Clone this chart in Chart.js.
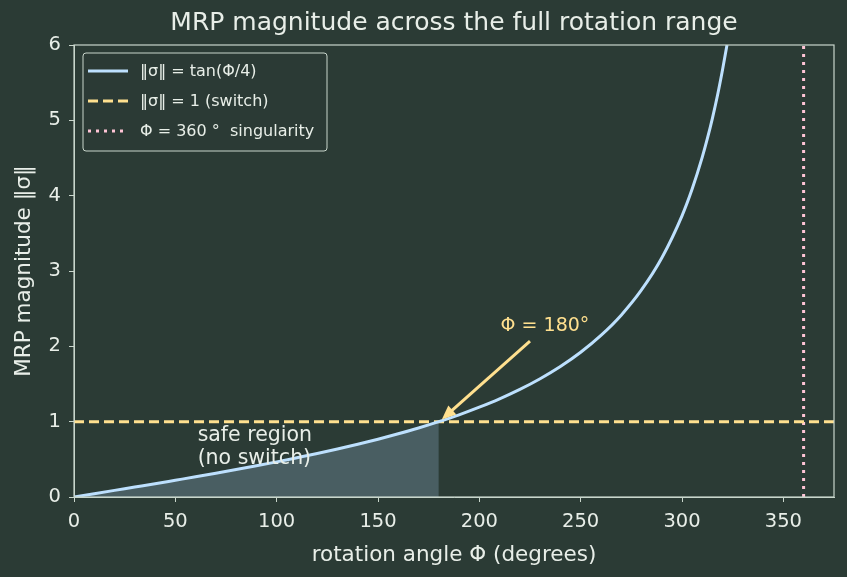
<!DOCTYPE html>
<html>
<head>
<meta charset="utf-8">
<script src="https://cdn.jsdelivr.net/npm/chart.js@4.4.1/dist/chart.umd.min.js"></script>
<style>
  html, body { margin: 0; padding: 0; background: #2b3b35; }
  canvas { display: block; }
</style>
</head>
<body>
<canvas id="mrpChart" width="847" height="577"></canvas>
<script>
// rotation angle (deg) and MRP magnitude
const angles = [0, 10, 20, 30, 40, 50, 60, 70, 80, 90, 100, 110, 120, 130, 140, 150, 160, 170, 180,
  190, 200, 210, 220, 230, 240, 250, 260, 270, 280, 290, 300, 305, 310, 312.5, 315, 317.5, 320, 322.2];
const magnitudes = [0, 0.044, 0.088, 0.132, 0.176, 0.222, 0.268, 0.315, 0.364, 0.414, 0.466, 0.521, 0.577,
  0.637, 0.700, 0.767, 0.839, 0.916, 1.0, 1.091, 1.192, 1.303, 1.428, 1.570, 1.732, 1.921, 2.145, 2.414,
  2.748, 3.172, 3.732, 4.087, 4.511, 4.756, 5.027, 5.329, 5.671, 6.0];
const safeEnd = 180;
const switchLevel = 1;
const singularAngle = 360;
const xTicks = [0, 50, 100, 150, 200, 250, 300, 350];
const yTicks = [0, 1, 2, 3, 4, 5, 6];

const textColor = '#e8eee8';
const frameColor = '#c9d6cc';
const curveColor = '#bde0fe';
const switchColor = '#ffe08f';
const singColor = '#ffc4d6';
const fontFamily = '"DejaVu Sans"';

const curvePts = angles.map((a, i) => ({ x: a, y: magnitudes[i] }));
const safePts = curvePts.filter(p => p.x <= safeEnd);

// frame, legend and annotations
const extrasPlugin = {
  id: 'extras',
  afterDraw(chart) {
    const { ctx, chartArea: ca, scales: { x, y } } = chart;
    ctx.save();
    ctx.strokeStyle = frameColor;
    ctx.lineWidth = 1.2;
    ctx.strokeRect(ca.left, ca.top, ca.right - ca.left, ca.bottom - ca.top);

    // arrow annotation
    const tx = x.getPixelForValue(225), ty = y.getPixelForValue(2.07);
    const hx = x.getPixelForValue(181.5), hy = y.getPixelForValue(1.03);
    const ang = Math.atan2(hy - ty, hx - tx);
    ctx.strokeStyle = switchColor;
    ctx.fillStyle = switchColor;
    ctx.lineWidth = 3;
    ctx.beginPath();
    ctx.moveTo(tx, ty);
    ctx.lineTo(hx - 8 * Math.cos(ang), hy - 8 * Math.sin(ang));
    ctx.stroke();
    ctx.beginPath();
    ctx.moveTo(hx, hy);
    ctx.lineTo(hx - 14 * Math.cos(ang) + 6 * Math.sin(ang), hy - 14 * Math.sin(ang) - 6 * Math.cos(ang));
    ctx.lineTo(hx - 14 * Math.cos(ang) - 6 * Math.sin(ang), hy - 14 * Math.sin(ang) + 6 * Math.cos(ang));
    ctx.closePath();
    ctx.fill();
    ctx.font = '19px ' + fontFamily;
    ctx.textBaseline = 'middle';
    ctx.fillText('Φ = 180°', x.getPixelForValue(210.5), y.getPixelForValue(2.27));

    ctx.fillStyle = textColor;
    ctx.font = '20.5px ' + fontFamily;
    ctx.fillText('safe region', x.getPixelForValue(61), y.getPixelForValue(0.82));
    ctx.fillText('(no switch)', x.getPixelForValue(61), y.getPixelForValue(0.51));

    // legend box
    const lx = 83, ly = 53, lw = 244, lh = 98;
    ctx.fillStyle = 'rgba(43,59,53,0.85)';
    ctx.strokeStyle = frameColor;
    ctx.lineWidth = 1;
    ctx.beginPath();
    ctx.roundRect(lx, ly, lw, lh, 3);
    ctx.fill();
    ctx.stroke();
    const items = [
      { label: '‖σ‖ = tan(Φ/4)', color: curveColor, dash: [] },
      { label: '‖σ‖ = 1 (switch)', color: switchColor, dash: [10, 5] },
      { label: 'Φ = 360 °  singularity', color: singColor, dash: [3, 5] }
    ];
    ctx.font = '16px ' + fontFamily;
    items.forEach((it, i) => {
      const rowY = 71 + i * 30;
      ctx.strokeStyle = it.color;
      ctx.lineWidth = 3;
      ctx.setLineDash(it.dash);
      ctx.beginPath();
      ctx.moveTo(88, rowY);
      ctx.lineTo(128, rowY);
      ctx.stroke();
      ctx.setLineDash([]);
      ctx.fillStyle = textColor;
      ctx.fillText(it.label, 140, rowY + 1);
    });
    ctx.restore();
  }
};

const ctxMrp = document.getElementById('mrpChart').getContext('2d');
const mrpChart = new Chart(ctxMrp, {
  type: 'line',
  data: {
    datasets: [
      {
        label: 'safe region',
        data: safePts,
        borderWidth: 0,
        pointRadius: 0,
        fill: 'origin',
        backgroundColor: 'rgba(150,185,215,0.28)',
        tension: 0.2,
        order: 4
      },
      {
        label: '‖σ‖ = 1 (switch)',
        data: [{ x: 0, y: switchLevel }, { x: 375, y: switchLevel }],
        borderColor: switchColor,
        borderWidth: 3,
        borderDash: [10, 5],
        pointRadius: 0,
        fill: false,
        order: 2
      },
      {
        label: 'Φ = 360 ° singularity',
        data: [{ x: singularAngle, y: 0 }, { x: singularAngle, y: 6 }],
        borderColor: singColor,
        borderWidth: 3,
        borderDash: [3, 5],
        pointRadius: 0,
        fill: false,
        order: 3
      },
      {
        label: '‖σ‖ = tan(Φ/4)',
        data: curvePts,
        borderColor: curveColor,
        borderWidth: 3,
        pointRadius: 0,
        fill: false,
        cubicInterpolationMode: 'monotone',
        order: 1
      }
    ]
  },
  options: {
    responsive: false,
    animation: false,
    layout: { padding: { left: 0, right: 13, top: 0, bottom: 0 } },
    plugins: {
      legend: { display: false },
      tooltip: { enabled: false },
      title: {
        display: true,
        fullSize: false,
        text: 'MRP magnitude across the full rotation range',
        color: textColor,
        font: { family: 'DejaVu Sans', size: 25, weight: 'normal' },
        padding: { top: 8, bottom: 7 }
      }
    },
    scales: {
      x: {
        type: 'linear',
        min: 0,
        max: 375,
        afterFit(scale) { scale.height = 80; },
        afterBuildTicks(scale) { scale.ticks = xTicks.map(v => ({ value: v })); },
        ticks: { color: textColor, font: { family: 'DejaVu Sans', size: 19.5 }, padding: 8, maxRotation: 0 },
        grid: { display: true, drawOnChartArea: false, drawTicks: true, tickLength: 5, color: frameColor },
        border: { color: frameColor },
        title: {
          display: true,
          text: 'rotation angle Φ (degrees)',
          color: textColor,
          font: { family: 'DejaVu Sans', size: 21.5 },
          padding: { bottom: 9 }
        }
      },
      y: {
        min: 0,
        max: 6,
        afterFit(scale) { scale.width = 74; },
        afterBuildTicks(scale) { scale.ticks = yTicks.map(v => ({ value: v })); },
        ticks: { color: textColor, font: { family: 'DejaVu Sans', size: 19.5 }, padding: 8 },
        grid: { display: true, drawOnChartArea: false, drawTicks: true, tickLength: 5, color: frameColor },
        border: { color: frameColor },
        title: {
          display: true,
          text: 'MRP magnitude ‖σ‖',
          color: textColor,
          font: { family: 'DejaVu Sans', size: 21.5 },
          padding: { top: 12 }
        }
      }
    }
  },
  plugins: [extrasPlugin]
});
</script>
</body>
</html>
